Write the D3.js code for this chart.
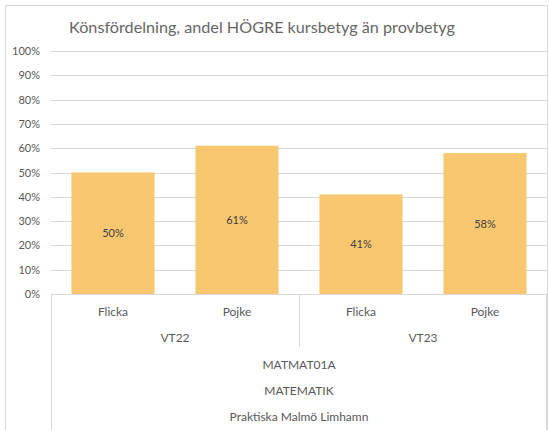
<!DOCTYPE html>
<html><head><meta charset="utf-8">
<script src="https://cdn.jsdelivr.net/npm/d3@7"></script>
<style>body{margin:0;background:#fff}svg{display:block}text{font-family:"Lato","Open Sans",sans-serif}</style>
</head><body><svg id="c" width="549" height="430"></svg>
<script>
const title = "Könsfördelning, andel HÖGRE kursbetyg än provbetyg";
const categories = ["Flicka", "Pojke", "Flicka", "Pojke"];
const periods = ["VT22", "VT23"];
const values = [50, 61, 41, 58];
const yTickValues = [0, 10, 20, 30, 40, 50, 60, 70, 80, 90, 100];
const outerLabels = ["MATMAT01A", "MATEMATIK", "Praktiska Malmö Limhamn"];

(function () {
const svg = d3.select("#c");
const pLeft = 51, pRight = 547, pTop = 51, pBottom = 294;
const gray = "#595959";

svg.append("rect").attr("x", 5.5).attr("y", 5.5).attr("width", 542).attr("height", 440)
  .attr("fill", "none").attr("stroke", "#d9d9d9");

svg.append("text").attr("x", 262).attr("y", 33).attr("text-anchor", "middle")
  .attr("font-size", 16.2).attr("fill", "#666").text(title);

const y = d3.scaleLinear().domain([0, 100]).range([pBottom, pTop]);
const x = d3.scaleBand().domain(d3.range(categories.length)).range([pLeft, pRight]).paddingInner(0.33).paddingOuter(0.165);
const xc = d3.scaleBand().domain(d3.range(categories.length)).range([pLeft, pRight]);

svg.append("g").selectAll("line").data(yTickValues.filter(d => d > 0)).join("line")
  .attr("x1", pLeft).attr("x2", pRight).attr("y1", d => Math.round(y(d)) + 0.5).attr("y2", d => Math.round(y(d)) + 0.5)
  .attr("stroke", "#d9d9d9").attr("stroke-width", 1);

const yAxis = d3.axisLeft(y).tickValues(yTickValues).tickFormat(d => d + "%").tickSize(0).tickPadding(0);
const ga = svg.append("g").attr("transform", `translate(40,0)`).call(yAxis);
ga.select(".domain").remove();
ga.selectAll("text").attr("font-size", 11).attr("fill", gray).attr("font-family", "Lato");

svg.append("g").selectAll("rect").data(values).join("rect")
  .attr("x", (d, i) => x(i)).attr("width", x.bandwidth())
  .attr("y", d => y(d)).attr("height", d => y(0) - y(d))
  .attr("fill", "#F8C770");

svg.append("g").selectAll("text").data(values).join("text")
  .attr("x", (d, i) => x(i) + x.bandwidth() / 2)
  .attr("y", d => (y(d) + y(0)) / 2 + 4)
  .attr("text-anchor", "middle").attr("font-size", 11).attr("fill", "#404040")
  .text(d => d + "%");

const axisY = Math.round(y(0)) + 0.5;
const lc = "#d9d9d9";
svg.append("line").attr("x1", pLeft).attr("x2", pRight).attr("y1", axisY).attr("y2", axisY).attr("stroke", lc);
[pLeft + 0.5, pRight - 0.5].forEach(xx => svg.append("line").attr("x1", xx).attr("x2", xx).attr("y1", axisY).attr("y2", 440).attr("stroke", lc));
const sep = Math.round(xc(2)) + 0.5;
svg.append("line").attr("x1", sep).attr("x2", sep).attr("y1", axisY).attr("y2", 347).attr("stroke", lc);

svg.append("g").selectAll("text").data(categories).join("text")
  .attr("x", (d, i) => xc(i) + xc.bandwidth() / 2).attr("y", 316)
  .attr("text-anchor", "middle").attr("font-size", 12).attr("fill", gray).text(d => d);

svg.append("g").selectAll("text").data(periods).join("text")
  .attr("x", (d, i) => xc(i * 2) + xc.bandwidth()).attr("y", 342)
  .attr("text-anchor", "middle").attr("font-size", 12).attr("fill", gray).text(d => d);

svg.append("g").selectAll("text").data(outerLabels).join("text")
  .attr("x", (pLeft + pRight) / 2).attr("y", (d, i) => 369 + i * 26)
  .attr("text-anchor", "middle").attr("font-size", 12).attr("fill", gray).text(d => d);
})();
</script></body></html>
